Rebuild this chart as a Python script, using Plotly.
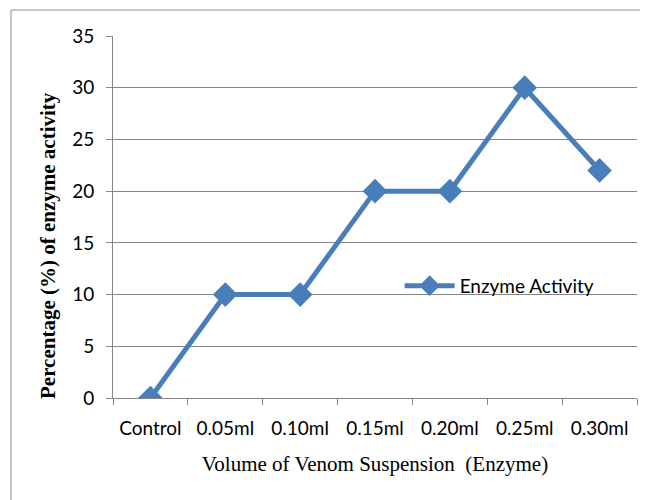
import plotly.graph_objects as go

categories = ["Control", "0.05ml", "0.10ml", "0.15ml", "0.20ml", "0.25ml", "0.30ml"]
activity = [0, 10, 10, 20, 20, 30, 22]
y_ticks = [0, 5, 10, 15, 20, 25, 30, 35]

blue = "#4A7EBB"
grid = "#868686"

L, T, R, B = 105, 28, 19, 110
PW, PH = 648 - L - R, 500 - T - B

fig = go.Figure()
fig.add_trace(go.Scatter(
    x=categories, y=activity, mode="lines+markers", name="Enzyme Activity",
    line=dict(color=blue, width=5),
    marker=dict(symbol="diamond", size=19, color=blue),
))

fig.update_layout(
    width=648, height=500,
    margin=dict(l=L, r=R, t=T, b=B, autoexpand=False),
    paper_bgcolor="white", plot_bgcolor="white",
    font=dict(family="Lato, Open Sans, sans-serif", size=19, color="#000"),
    showlegend=True,
    legend=dict(x=0.547, y=0.31, xanchor="left", yanchor="middle",
                bgcolor="rgba(0,0,0,0)", font=dict(size=19), itemwidth=50),
    xaxis=dict(
        type="category", showline=True, linecolor=grid, linewidth=1,
        ticks="outside", tickson="boundaries", ticklen=6, tickcolor=grid,
        ticklabelstandoff=13,
        showgrid=False, range=[-0.5, 6.5], automargin=False,
        title=dict(text="Volume of Venom Suspension  (Enzyme)", standoff=18,
                   font=dict(family="Liberation Serif, Times New Roman, serif", size=21)),
    ),
    yaxis=dict(
        range=[0, 35], tickvals=y_ticks, showline=True, linecolor=grid, linewidth=1,
        ticks="outside", ticklen=6, tickcolor=grid, ticklabelstandoff=8,
        showgrid=True, gridcolor=grid, gridwidth=1, zeroline=False, automargin=False,
    ),
    annotations=[dict(text="<b>Percentage (%) of enzyme activity</b>",
                      xref="paper", yref="paper", x=(48 - 113) / 524, y=(398 - 246) / 362,
                      xanchor="center", yanchor="middle", textangle=-90, showarrow=False,
                      font=dict(family="Liberation Serif, Times New Roman, serif", size=21))],
    shapes=[dict(type="rect", xref="paper", yref="paper",
                 x0=(3 - L) / PW, x1=1.3, y0=-0.6, y1=(500 - B - 2) / PH,
                 line=dict(color="#8c8c8c", width=1), layer="below")],
)

fig.write_html("out.html")
